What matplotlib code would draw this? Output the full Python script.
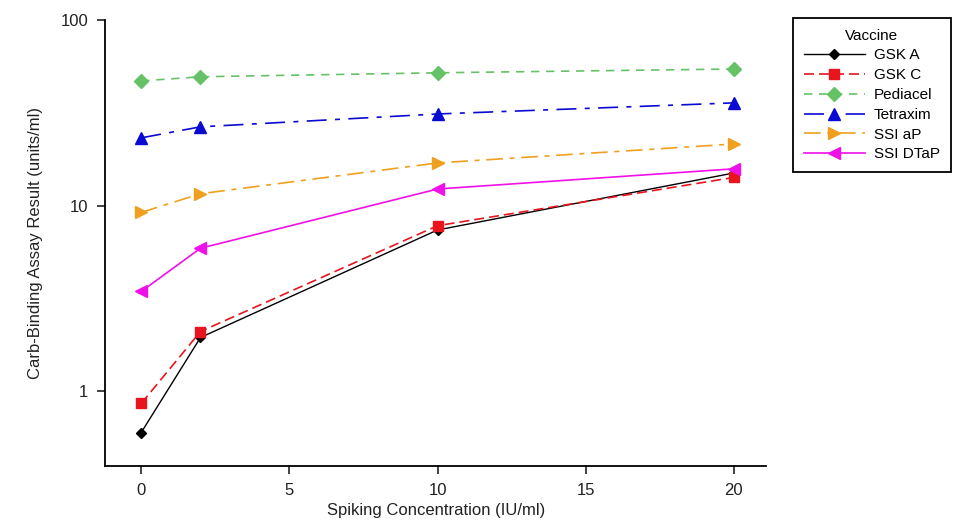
import numpy as np
import matplotlib.pyplot as plt
from matplotlib.ticker import FixedLocator, NullLocator

plt.rcParams['font.family'] = ['Liberation Sans', 'DejaVu Sans']

conc = [0, 2, 10, 20]

gsk_a = [0.6, 1.95, 7.4, 15.0]
gsk_c = [0.86, 2.1, 7.8, 14.2]
pediacel = [47, 49.5, 52, 54.5]
tetraxim = [23.2, 26.6, 31.2, 35.8]
ssi_ap = [9.2, 11.6, 17.0, 21.5]
ssi_dtap = [3.45, 5.9, 12.3, 15.8]

labels = ['GSK A', 'GSK C', 'Pediacel', 'Tetraxim', 'SSI aP', 'SSI DTaP']

fig = plt.figure(figsize=(9.64, 5.28), dpi=100)
ax = fig.add_axes([0.109, 0.117, 0.686, 0.845])

ax.plot(conc, gsk_a, color='black', ls='-', lw=1, marker='D', ms=5, label=labels[0])
ax.plot(conc, gsk_c, color='#e8141e', ls=(0, (6, 3)), lw=1.2, marker='s', ms=7, label=labels[1])
ax.plot(conc, pediacel, color='#66c266', ls=(0, (5, 4)), lw=1.2, marker='D', ms=7, label=labels[2])
ax.plot(conc, tetraxim, color='#0a0ad2', ls=(0, (12, 5, 3, 5)), lw=1.2, marker='^', ms=8, label=labels[3])
ax.plot(conc, ssi_ap, color='#f0a020', ls=(0, (10, 4, 3, 4)), lw=1.2, marker='>', ms=8, label=labels[4])
ax.plot(conc, ssi_dtap, color='#f010e8', ls='-', lw=1.2, marker='<', ms=8, label=labels[5])

ax.set_yscale('log')
ax.set_ylim(0.395, 100)
ax.set_xlim(-1.22, 21.1)
ax.yaxis.set_major_locator(FixedLocator([1, 10, 100]))
ax.yaxis.set_minor_locator(NullLocator())
ax.set_yticklabels(['1', '10', '100'])
ax.set_xticks([0, 5, 10, 15, 20])

for s in ['top', 'right']:
    ax.spines[s].set_visible(False)
for s in ['left', 'bottom']:
    ax.spines[s].set_linewidth(1.3)
ax.tick_params(direction='out', length=6, width=1.2, labelsize=12, colors='#222222', pad=6)

ax.set_xlabel('Spiking Concentration (IU/ml)', fontsize=12, color='#222222', labelpad=4)
ax.set_ylabel('Carb-Binding Assay Result (units/ml)', fontsize=12, color='#222222', labelpad=13)

leg = ax.legend(title='Vaccine', loc='upper left', bbox_to_anchor=(0.8226, 0.966),
                bbox_transform=fig.transFigure, borderaxespad=0, fontsize=11, title_fontsize=11,
                fancybox=False, edgecolor='black', framealpha=1,
                handlelength=4, borderpad=0.7, labelspacing=0.38, handletextpad=0.6)
leg.get_frame().set_linewidth(1.3)

fig.savefig('out.png', dpi=100)
